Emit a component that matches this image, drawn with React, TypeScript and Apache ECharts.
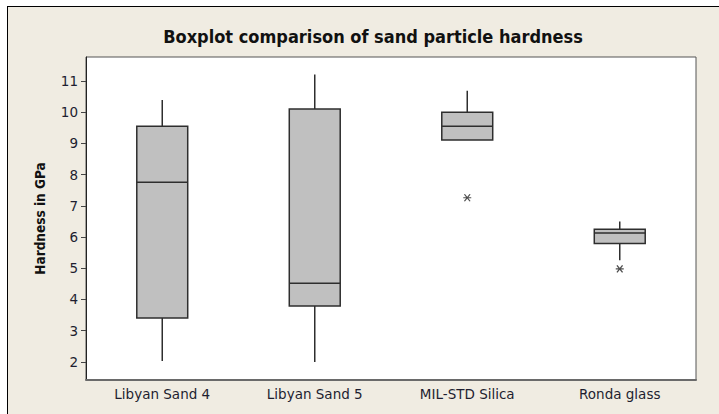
import React, { useEffect, useRef } from "react";
import * as echarts from "echarts";

const categories = ["Libyan Sand 4", "Libyan Sand 5", "MIL-STD Silica", "Ronda glass"];
const whiskerLow = [2.03, 2.0, 9.11, 5.26];
const quartile1 = [3.41, 3.79, 9.11, 5.79];
const medians = [7.76, 4.52, 9.55, 6.13];
const quartile3 = [9.55, 10.1, 10.0, 6.25];
const whiskerHigh = [10.39, 11.21, 10.69, 6.5];
const outlierCategory = ["MIL-STD Silica", "Ronda glass"];
const outlierValue = [7.26, 4.98];
const yTicks = [2, 3, 4, 5, 6, 7, 8, 9, 10, 11];

const FONT = "'DejaVu Sans', Verdana, sans-serif";
const FONT_C = "'DejaVu Sans Condensed', 'DejaVu Sans', sans-serif";

export default function App() {
  const ref = useRef<HTMLDivElement>(null);
  useEffect(() => {
    if (!ref.current) return;
    const chart = echarts.init(ref.current, undefined, { renderer: "svg" });
    const boxData = categories.map((_, i) => [
      i,
      whiskerLow[i],
      quartile1[i],
      medians[i],
      quartile3[i],
      whiskerHigh[i],
    ]);
    const outlierData = outlierCategory.map((c, i) => [c, outlierValue[i]]);
    const stroke = "#2e2e2e";
    chart.setOption({
      animation: false,
      backgroundColor: "transparent",
      title: {
        text: "Boxplot comparison of sand particle hardness",
        left: 368,
        top: 22,
        textAlign: "center",
        textStyle: { fontFamily: FONT_C, fontWeight: "bold", fontSize: 18, color: "#111" },
      },
      grid: {
        left: 86,
        top: 57,
        right: 23,
        bottom: 34,
        show: true,
        backgroundColor: "#ffffff",
        borderColor: "#555",
        borderWidth: 1,
      },
      xAxis: {
        type: "category",
        data: categories,
        axisLine: { lineStyle: { color: "#6a6a6a", width: 2 } },
        axisTick: { alignWithLabel: true, length: 4, lineStyle: { color: "#444" } },
        axisLabel: { fontFamily: FONT, fontSize: 13.5, color: "#1e1e30", margin: 7 },
        splitLine: { show: false },
      },
      yAxis: {
        type: "value",
        min: 1.42,
        max: 11.77,
        name: "Hardness in GPa",
        nameLocation: "middle",
        nameGap: 39,
        nameTextStyle: { fontFamily: FONT_C, fontWeight: "bold", fontSize: 13.5, color: "#111" },
        axisLine: { show: true, lineStyle: { color: "#222", width: 1 } },
        axisTick: { show: true, length: 5, customValues: yTicks, lineStyle: { color: "#444" } },
        axisLabel: { fontFamily: FONT, fontSize: 13.5, color: "#1e1e30", margin: 8, customValues: yTicks },
        splitLine: { show: false },
      },
      series: [
        {
          type: "custom",
          data: boxData,
          encode: { x: 0, y: [1, 2, 3, 4, 5] },
          renderItem: (params: any, api: any) => {
            const idx = api.value(0);
            const lo = api.coord([idx, api.value(1)]);
            const q1 = api.coord([idx, api.value(2)]);
            const md = api.coord([idx, api.value(3)]);
            const q3 = api.coord([idx, api.value(4)]);
            const hi = api.coord([idx, api.value(5)]);
            const bw = api.size([1, 0])[0] * 0.334;
            const x0 = lo[0] - bw / 2;
            const ls = { stroke, lineWidth: 1.5 };
            return {
              type: "group",
              children: [
                { type: "line", shape: { x1: lo[0], y1: lo[1], x2: q1[0], y2: q1[1] }, style: ls },
                { type: "line", shape: { x1: q3[0], y1: q3[1], x2: hi[0], y2: hi[1] }, style: ls },
                {
                  type: "rect",
                  shape: { x: x0, y: q3[1], width: bw, height: q1[1] - q3[1] },
                  style: { fill: "#c0c0c0", stroke, lineWidth: 1.5 },
                },
                { type: "line", shape: { x1: x0, y1: md[1], x2: x0 + bw, y2: md[1] }, style: ls },
              ],
            };
          },
          z: 3,
        },
        {
          type: "scatter",
          data: outlierData,
          symbol: "path://M0,5L10,5M1.5,1L8.5,9M8.5,1L1.5,9",
          symbolSize: [8, 7],
          itemStyle: { color: "transparent", borderColor: "#222", borderWidth: 1.2 },
          z: 4,
        },
      ],
    });
    return () => chart.dispose();
  }, []);
  return (
    <div style={{ position: "fixed", left: 0, top: 0, width: 719, height: 414, background: "#fff", overflow: "hidden" }}>
      <div
        style={{
          position: "absolute",
          left: 7,
          top: 6,
          width: 800,
          height: 500,
          background: "#f0ece2",
          border: "1px solid #000",
        }}
      />
      <div ref={ref} style={{ position: "absolute", left: 0, top: 0, width: 719, height: 414 }} />
    </div>
  );
}
